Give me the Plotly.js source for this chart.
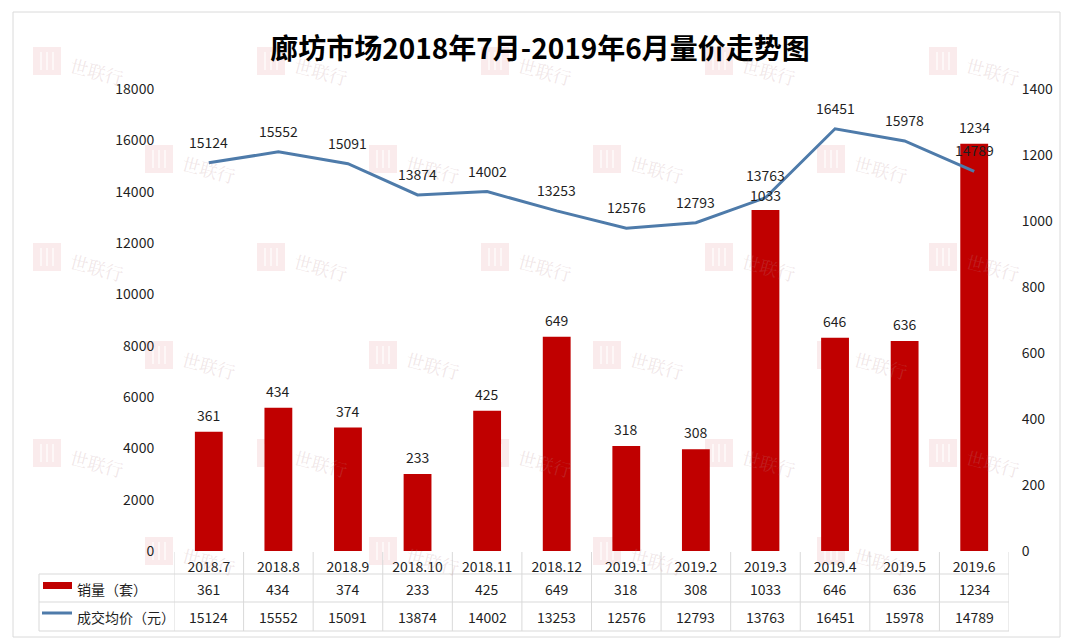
<!DOCTYPE html>
<html>
<head>
<meta charset="utf-8">
<script src="https://cdn.plot.ly/plotly-3.0.1.min.js"></script>
<style>
  html, body { margin: 0; padding: 0; background: #ffffff; }
  #chart { width: 1080px; height: 639px; }
</style>
</head>
<body>
<div id="chart"></div>
<script>
// ---- data ----
const months = ['2018.7','2018.8','2018.9','2018.10','2018.11','2018.12','2019.1','2019.2','2019.3','2019.4','2019.5','2019.6'];
const sales = [361, 434, 374, 233, 425, 649, 318, 308, 1033, 646, 636, 1234];
const prices = [15124, 15552, 15091, 13874, 14002, 13253, 12576, 12793, 13763, 16451, 15978, 14789];
const salesName = '销量（套）';
const priceName = '成交均价（元）';
const chartTitle = '廊坊市场2018年7月-2019年6月量价走势图';
const watermarkText = '世联行';

// ---- layout geometry (pixels) ----
const W = 1080, H = 639;
const L = 174, R = 1009, T = 89, B = 551;
const px = x => (x - L) / (R - L);
const py = y => (B - y) / (B - T);
const SALES_MAX = 1400, PRICE_MAX = 18000;

const FONT = '"Noto Sans CJK SC", "Noto Sans", sans-serif';
const BAR_COLOR = '#C00000';
const LINE_COLOR = '#4E7BAA';
const GRID = '#D9D9D9';
const TXT = '#1f1f1f';

const traces = [
  {
    type: 'bar', x: months, y: sales, name: salesName,
    xaxis: 'x', yaxis: 'y', width: 0.4,
    marker: { color: BAR_COLOR }, hoverinfo: 'skip', showlegend: false
  },
  {
    type: 'scatter', mode: 'lines', x: months, y: prices, name: priceName,
    xaxis: 'x', yaxis: 'y2',
    line: { color: LINE_COLOR, width: 3 }, hoverinfo: 'skip', showlegend: false
  }
];

const shapes = [];
const annotations = [];

// outer frame
shapes.push({ type: 'rect', xref: 'paper', yref: 'paper', x0: px(13), x1: px(1060), y0: py(637), y1: py(12),
  line: { color: '#DADADA', width: 1 }, fillcolor: 'rgba(0,0,0,0)', layer: 'below' });

// watermarks (decorative, faint)
const wmRows = [61, 159, 257, 355, 453, 551];
wmRows.forEach((wy, r) => {
  const xs = (r % 2 === 0) ? [47, 271, 495, 719, 943] : [159, 383, 607, 831];
  xs.forEach(wx => {
    shapes.push({ type: 'rect', xref: 'paper', yref: 'paper', x0: px(wx - 14), x1: px(wx + 14), y0: py(wy + 14), y1: py(wy - 14),
      line: { width: 0 }, fillcolor: 'rgba(215,90,100,0.12)', layer: 'below' });
    for (let k = -1; k <= 1; k++) {
      shapes.push({ type: 'line', xref: 'paper', yref: 'paper', x0: px(wx + k * 6), x1: px(wx + k * 6), y0: py(wy + 9), y1: py(wy - 9),
        line: { color: 'rgba(255,255,255,0.6)', width: 2 }, layer: 'below' });
    }
    annotations.push({ xref: 'paper', yref: 'paper', x: px(wx + 18), y: py(wy + 10), xanchor: 'left', yanchor: 'middle',
      text: watermarkText, showarrow: false, textangle: 15,
      font: { family: '"Noto Serif CJK SC", "Noto Sans CJK SC", serif', size: 18, color: 'rgba(190,140,145,0.22)' } });
  });
});

// data labels (x given as category index); push apart labels that would collide
const plotH = B - T;
months.forEach((m, i) => {
  let barShift = 17, lineShift = 21;
  const barY = B - sales[i] / SALES_MAX * plotH - barShift;
  const lineY = B - prices[i] / PRICE_MAX * plotH - lineShift;
  const gap = Math.abs(barY - lineY);
  if (gap < 20) {
    const extra = (20 - gap) / 2;
    if (lineY < barY) { lineShift += extra; barShift -= extra; }
    else { lineShift -= extra; barShift += extra; }
  }
  annotations.push({ x: i, y: sales[i], xref: 'x', yref: 'y', yanchor: 'middle', yshift: barShift,
    text: String(sales[i]), showarrow: false, font: { family: FONT, size: 14, color: TXT } });
  annotations.push({ x: i, y: prices[i], xref: 'x', yref: 'y2', yanchor: 'middle', yshift: lineShift,
    text: String(prices[i]), showarrow: false, font: { family: FONT, size: 14, color: TXT } });
});

// data table grid
const n = months.length;
for (let k = 0; k <= n; k++) {
  shapes.push({ type: 'line', xref: 'x', yref: 'paper', x0: k - 0.5, x1: k - 0.5, y0: py(552), y1: py(631),
    line: { color: GRID, width: 1 } });
}
shapes.push({ type: 'line', xref: 'paper', yref: 'paper', x0: px(39), x1: px(39), y0: py(574), y1: py(631), line: { color: GRID, width: 1 } });
[574, 602, 631].forEach(yy => {
  shapes.push({ type: 'line', xref: 'paper', yref: 'paper', x0: px(39), x1: px(R), y0: py(yy), y1: py(yy), line: { color: GRID, width: 1 } });
});

// legend swatches in table
shapes.push({ type: 'rect', xref: 'paper', yref: 'paper', x0: px(43), x1: px(72), y0: py(589), y1: py(582),
  line: { width: 0 }, fillcolor: BAR_COLOR });
shapes.push({ type: 'line', xref: 'paper', yref: 'paper', x0: px(42), x1: px(72), y0: py(613), y1: py(613),
  line: { color: LINE_COLOR, width: 3 } });
annotations.push({ xref: 'paper', yref: 'paper', x: px(75), y: py(589), xanchor: 'left', yanchor: 'middle',
  text: salesName, showarrow: false, font: { family: FONT, size: 14, color: TXT } });
annotations.push({ xref: 'paper', yref: 'paper', x: px(75), y: py(617), xanchor: 'left', yanchor: 'middle',
  text: priceName, showarrow: false, font: { family: FONT, size: 14, color: TXT } });

// table values
months.forEach((m, i) => {
  annotations.push({ x: i, xref: 'x', yref: 'paper', y: py(589), yanchor: 'middle',
    text: String(sales[i]), showarrow: false, font: { family: FONT, size: 14, color: TXT } });
  annotations.push({ x: i, xref: 'x', yref: 'paper', y: py(617), yanchor: 'middle',
    text: String(prices[i]), showarrow: false, font: { family: FONT, size: 14, color: TXT } });
});

const layout = {
  width: W, height: H,
  paper_bgcolor: '#ffffff', plot_bgcolor: 'rgba(0,0,0,0)',
  margin: { l: L, r: W - R, t: T, b: H - B, pad: 0 },
  font: { family: FONT, size: 14, color: TXT },
  title: {
    text: chartTitle, x: 0.5, xref: 'container', xanchor: 'center',
    y: 1 - 49.5 / H, yref: 'container', yanchor: 'middle',
    font: { family: FONT, size: 28, color: '#000000', weight: 700 }
  },
  showlegend: false,
  bargap: 0.6,
  xaxis: {
    type: 'category', range: [-0.5, n - 0.5], showgrid: false, zeroline: false, showline: false,
    ticks: 'outside', ticklen: 3, tickcolor: 'rgba(0,0,0,0)',
    tickfont: { family: FONT, size: 14, color: TXT }, fixedrange: true
  },
  yaxis: {
    side: 'right', range: [0, SALES_MAX], dtick: 200, tickformat: 'd', showgrid: false, zeroline: false, showline: false,
    ticks: 'outside', ticklen: 9, tickcolor: 'rgba(0,0,0,0)',
    tickfont: { family: FONT, size: 14, color: TXT }, automargin: false, fixedrange: true
  },
  yaxis2: {
    overlaying: 'y', side: 'left', anchor: 'x', range: [0, PRICE_MAX], dtick: 2000, tickformat: 'd',
    showgrid: false, zeroline: false, showline: false,
    ticks: 'outside', ticklen: 16, tickcolor: 'rgba(0,0,0,0)',
    tickfont: { family: FONT, size: 14, color: TXT }, automargin: false, fixedrange: true
  },
  shapes: shapes,
  annotations: annotations
};

Plotly.newPlot('chart', traces, layout, { displayModeBar: false, staticPlot: true });
</script>
</body>
</html>
